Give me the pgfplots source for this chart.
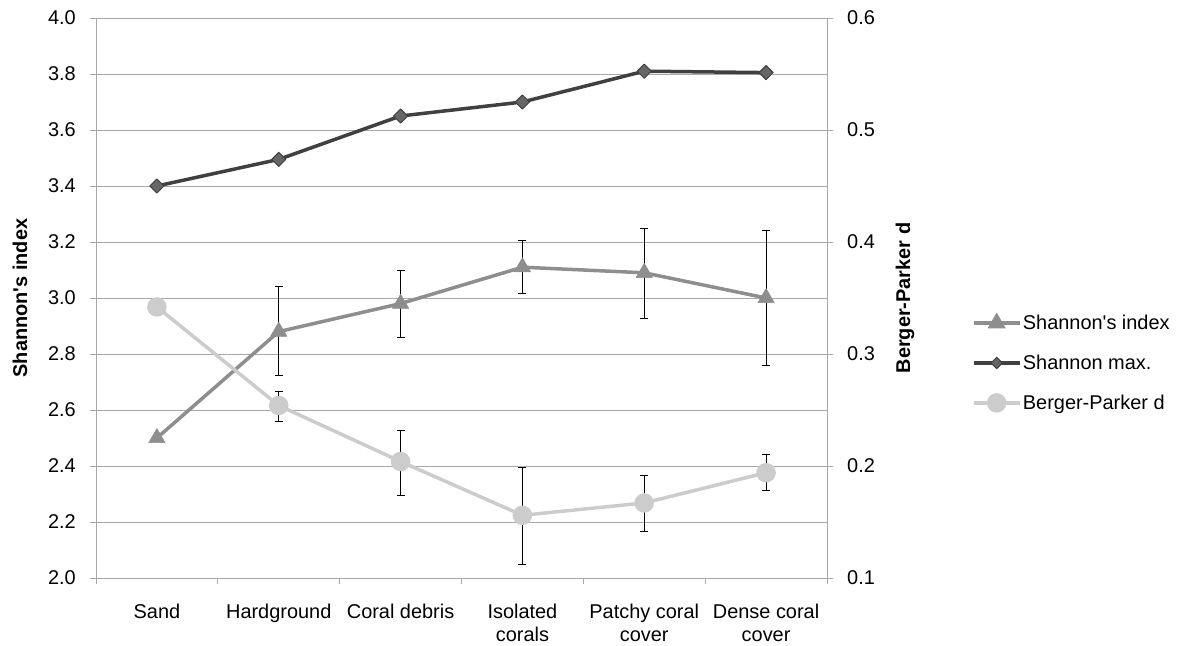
\documentclass[border=0pt]{standalone}
\usepackage{fontspec}
\setmainfont{Liberation Sans}
\usepackage{pgfplots}
\usepackage{pgfplotstable}
\pgfplotsset{compat=1.18}
\definecolor{gridc}{HTML}{A8A8A8}
\definecolor{sidx}{HTML}{8E8E8E}
\definecolor{smax}{HTML}{404040}
\definecolor{smaxm}{HTML}{666666}
\definecolor{bpd}{HTML}{CCCCCC}
\newcommand\cf{\fontsize{20}{23}\selectfont}

\pgfplotstableread{
x y ep em
0 2.50 0 0
1 2.88 0.163 0.157
2 2.98 0.12 0.12
3 3.11 0.095 0.093
4 3.09 0.16 0.163
5 3.00 0.243 0.240
}\shidx
\pgfplotstableread{
x y
0 3.400
1 3.495
2 3.650
3 3.700
4 3.810
5 3.805
}\shmax
\pgfplotstableread{
x y ep em
0 0.342 0 0
1 0.254 0.013 0.014
2 0.204 0.028 0.030
3 0.156 0.043 0.044
4 0.167 0.025 0.025
5 0.194 0.016 0.016
}\bpd

\begin{document}
\begin{tikzpicture}
\useasboundingbox (0,0) rectangle (1177bp,646bp);
\pgfplotsset{
  common/.style={
    at={(96bp,68bp)}, anchor=south west,
    scale only axis, width=731bp, height=560bp,
    xmin=-0.5, xmax=5.5,
    clip=false,
    tick align=outside,
    major tick length=6bp,
    tick style={gridc, line width=0.8bp},
    axis line style={gridc, line width=0.8bp},
    tick label style={font=\cf, black},
    label style={font=\cf\bfseries, black},
    /pgf/number format/assume math mode=true,
    /pgf/number format/fixed,
    /pgf/number format/fixed zerofill,
    /pgf/number format/precision=1,
  },
  ebar/.style={error bars/.cd, y dir=both, y explicit,
    error bar style={black, line width=0.8bp},
    error mark options={black, line width=0.8bp, mark size=4bp, rotate=90}},
}
\begin{axis}[common,
  ymin=2, ymax=4,
  ytick={2,2.2,2.4,2.6,2.8,3,3.2,3.4,3.6,3.8,4},
  ymajorgrids, grid style={gridc, line width=0.8bp},
  axis y line*=left, axis x line*=bottom,
  xtick={-0.5,0.5,1.5,2.5,3.5,4.5,5.5},
  x tick label as interval,
  xticklabels={Sand, Hardground, Coral debris, {Isolated\\corals}, {Patchy coral\\cover}, {Dense coral\\cover}},
  xticklabel style={align=center, inner sep=0bp, yshift=-20bp},
  yticklabel style={inner sep=0bp, xshift=-14bp},
  ylabel={Shannon\textquotesingle s index},
  ylabel style={at={(axis description cs:-0.104,0.5)}, anchor=center, rotate=0},
]
\addplot[sidx, line width=3.5bp, line join=round, mark=triangle*, mark size=9.5bp,
  mark options={fill=sidx, draw=sidx, line width=0.5bp}, ebar]
  table[x=x, y=y, y error plus=ep, y error minus=em] {\shidx};
\addplot[smax, line width=3.5bp, line join=round, mark=square*, mark size=5bp,
  mark options={rotate=45, fill=smaxm, draw=smax, line width=1bp}]
  table[x=x, y=y] {\shmax};
\end{axis}
\begin{axis}[common,
  ymin=0.1, ymax=0.6,
  ytick={0.1,0.2,0.3,0.4,0.5,0.6},
  axis y line*=right, axis x line=none,
  yticklabel style={inner sep=0bp, xshift=14bp},
  ylabel={Berger-Parker d},
  ylabel style={at={(axis description cs:1.1067,0.5)}, anchor=center, rotate=0},
  legend style={draw=none, fill=none, at={(axis description cs:1.198,0.384)}, anchor=west,
    font=\cf, row sep=21bp, inner sep=0bp,
    nodes={inner sep=1.5bp}},
  legend cell align=left,
  legend image code/.code={\draw[mark repeat=2, mark phase=2] plot coordinates {(0bp,0bp) (23bp,0bp) (46bp,0bp)};},
]
\addlegendimage{sidx, line width=3.5bp, mark=triangle*, mark size=7bp, mark options={fill=sidx, draw=sidx}}
\addlegendentry{Shannon\textquotesingle s index}
\addlegendimage{smax, line width=3.5bp, mark=square*, mark size=4bp, mark options={rotate=45, fill=smaxm, draw=smax, line width=1bp}}
\addlegendentry{Shannon max.}
\addplot[bpd, line width=3.5bp, line join=round, mark=*, mark size=8bp,
  mark options={fill=bpd, draw=bpd}, ebar]
  table[x=x, y=y, y error plus=ep, y error minus=em] {\bpd};
\addlegendentry{Berger-Parker d}
\end{axis}
\end{tikzpicture}
\end{document}
